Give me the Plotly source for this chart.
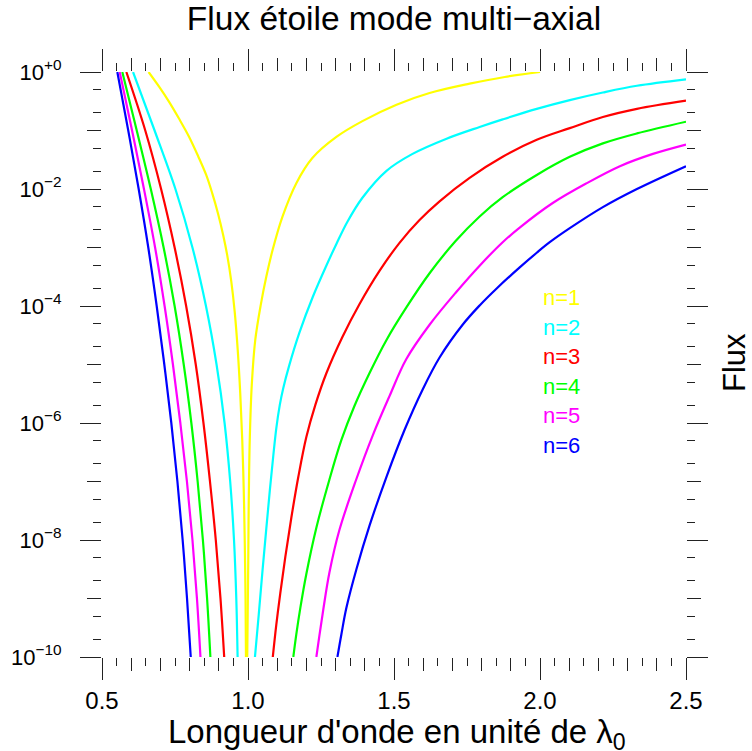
import plotly.graph_objects as go

# ---------------- data ----------------
# x = wavelength in units of lambda0 ; e = log10(flux)
decades = [0, -1, -2, -3, -4, -5, -6, -7, -8, -9, -10]

n1_left_x = [0.6595, 0.6955, 0.7298, 0.7641, 0.7985, 0.8293, 0.8568, 0.8774, 0.8979, 0.9151, 0.9288, 0.9425, 0.9545, 0.9648, 0.9734, 0.9803, 0.9854, 0.9888, 0.9916, 0.9930]
n1_left_e = [0, -0.25, -0.51, -0.80, -1.11, -1.44, -1.76, -2.07, -2.43, -2.79, -3.13, -3.57, -4.10, -4.75, -5.49, -6.29, -7.15, -8.00, -9.03, -10]
n1_right_x = [0.9974, 1.0009, 1.0026, 1.0060, 1.0129, 1.0249, 1.0437, 1.0626, 1.0849, 1.1175, 1.1655, 1.2204, 1.3027, 1.3919, 1.5086, 1.6218, 1.7590, 1.8791, 2.0]
n1_right_e = [-10, -8.34, -7.32, -6.29, -5.35, -4.58, -3.98, -3.50, -3.03, -2.48, -1.90, -1.47, -1.11, -0.84, -0.56, -0.36, -0.20, -0.085, 0]

n2_left_x = [0.6063, 0.6801, 0.7514, 0.8097, 0.8560, 0.8923, 0.9198, 0.9390, 0.9521, 0.9599, 0.9644]
n2_left_e = decades
n2_right_x = [1.0238, 1.0369, 1.0499, 1.0626, 1.0746, 1.0866, 1.0969, 1.1089, 1.1209, 1.1415, 1.1758, 1.2214, 1.2674, 1.3027, 1.3405, 1.3919, 1.4743, 1.5635, 1.6801, 1.7933, 1.8722, 1.9888, 2.1020, 2.2153, 2.3319, 2.5]
n2_right_e = [-10, -9.27, -8.51, -7.81, -7.16, -6.56, -6.09, -5.69, -5.40, -5.01, -4.46, -3.85, -3.32, -2.94, -2.56, -2.15, -1.69, -1.40, -1.14, -0.94, -0.81, -0.63, -0.48, -0.35, -0.235, -0.125]

n3_left_x = [0.5834, 0.6482, 0.7024, 0.7487, 0.7882, 0.8211, 0.8475, 0.8698, 0.8897, 0.9058, 0.9185]
n3_left_e = decades
n3_right_x = [1.0849, 1.0969, 1.1106, 1.1278, 1.1484, 1.1724, 1.1998, 1.2307, 1.2684, 1.3233, 1.3816, 1.4503, 1.5189, 1.5875, 1.6561, 1.7590, 1.8722, 1.9888, 2.1020, 2.2153, 2.3319, 2.5]
n3_right_e = [-10, -9.45, -8.91, -8.29, -7.62, -6.92, -6.24, -5.69, -5.15, -4.53, -3.97, -3.40, -2.92, -2.53, -2.21, -1.81, -1.45, -1.16, -0.96, -0.77, -0.63, -0.49]

n4_left_x = [0.5696, 0.6190, 0.6671, 0.7110, 0.7487, 0.7799, 0.8060, 0.8276, 0.8455, 0.8599, 0.8712]
n4_left_e = decades
n4_right_x = [1.1552, 1.1655, 1.1792, 1.1998, 1.2341, 1.2787, 1.3199, 1.3645, 1.4159, 1.4743, 1.5429, 1.6218, 1.7110, 1.7933, 1.8722, 1.9888, 2.1020, 2.2153, 2.3319, 2.5]
n4_right_e = [-10, -9.61, -9.16, -8.58, -7.79, -6.97, -6.29, -5.71, -5.15, -4.58, -4.02, -3.44, -2.89, -2.47, -2.14, -1.76, -1.45, -1.22, -1.05, -0.85]

n5_left_x = [0.5607, 0.6029, 0.6437, 0.6818, 0.7144, 0.7429, 0.7683, 0.7909, 0.8098, 0.8252, 0.8372]
n5_left_e = decades
n5_right_x = [1.2341, 1.2444, 1.2581, 1.2787, 1.3130, 1.3703, 1.4273, 1.4846, 1.5418, 1.6218, 1.7134, 1.7933, 1.8722, 1.9305, 2.0437, 2.1604, 2.2736, 2.3868, 2.5]
n5_right_e = [-10, -9.64, -9.18, -8.56, -7.83, -6.97, -6.21, -5.54, -4.91, -4.32, -3.76, -3.31, -2.91, -2.66, -2.24, -1.90, -1.61, -1.40, -1.24]

n6_left_x = [0.5525, 0.5899, 0.6256, 0.6585, 0.6873, 0.7134, 0.7374, 0.7583, 0.7762, 0.7912, 0.8039]
n6_left_e = decades
n6_right_x = [1.3062, 1.3199, 1.3370, 1.3713, 1.4159, 1.4743, 1.5360, 1.5978, 1.6561, 1.7350, 1.7933, 1.8516, 1.9305, 1.9888, 2.0334, 2.1020, 2.2153, 2.3319, 2.5]
n6_right_e = [-10, -9.61, -9.16, -8.50, -7.76, -6.92, -6.12, -5.43, -4.88, -4.32, -3.99, -3.70, -3.34, -3.09, -2.91, -2.67, -2.31, -2.00, -1.61]

series_names = ["n=1", "n=2", "n=3", "n=4", "n=5", "n=6"]
series_colors = ["#ffff00", "#00ffff", "#ff0000", "#00ff00", "#ff00ff", "#0000ff"]

x_major = [0.5, 1.0, 1.5, 2.0, 2.5]
x_major_text = ["0.5", "1.0", "1.5", "2.0", "2.5"]
y_label_exp = [0, -2, -4, -6, -8, -10]
y_label_text = ["10<sup>+0</sup>", "10<sup>\u22122</sup>", "10<sup>\u22124</sup>",
                "10<sup>\u22126</sup>", "10<sup>\u22128</sup>", "10<sup>\u221210</sup>"]

# ---------------- figure ----------------
W, H = 752, 751
L, R, T, B = 102, 66, 72, 94
FONT = "Liberation Sans, Arial, Helvetica, sans-serif"

lefts = [(n1_left_x, n1_left_e), (n2_left_x, n2_left_e), (n3_left_x, n3_left_e),
         (n4_left_x, n4_left_e), (n5_left_x, n5_left_e), (n6_left_x, n6_left_e)]
rights = [(n1_right_x, n1_right_e), (n2_right_x, n2_right_e), (n3_right_x, n3_right_e),
          (n4_right_x, n4_right_e), (n5_right_x, n5_right_e), (n6_right_x, n6_right_e)]

fig = go.Figure()
for (lx, le), (rx, re_), name, col in zip(lefts, rights, series_names, series_colors):
    xs = list(lx) + [None] + list(rx)
    ys = [10 ** e for e in le] + [None] + [10 ** e for e in re_]
    fig.add_trace(go.Scatter(x=xs, y=ys, mode="lines", name=name,
                             line=dict(color=col, width=2.2, shape="spline", smoothing=1.0),
                             connectgaps=False, showlegend=False))

# empty trace to create the overlay subplot carrying the long (labelled) ticks
fig.add_trace(go.Scatter(x=[], y=[], xaxis="x2", yaxis="y2", showlegend=False))

tick_common = dict(showgrid=False, zeroline=False, showline=False,
                   ticks="outside", tickcolor="#222", tickwidth=1, mirror="ticks")

x_mid = [round(0.5 + 0.1 * i, 2) for i in range(21)]
x_min = [round(0.55 + 0.1 * i, 2) for i in range(20)]
y_dec = [10.0 ** (-k) for k in range(11)]
y_min = []
for k in range(1, 11):
    y_min += [2 * 10.0 ** (-k), 5 * 10.0 ** (-k)]

fig.update_layout(
    width=W, height=H,
    margin=dict(l=L, r=R, t=T, b=B, pad=0),
    paper_bgcolor="white", plot_bgcolor="white",
    font=dict(family=FONT, color="black"),
    title=dict(text="Flux étoile mode multi\u2212axial", x=0.5, xref="paper", xanchor="center",
               y=1 - 18 / H, yref="container", yanchor="middle",
               font=dict(size=33.5, family=FONT, color="black")),
    xaxis=dict(range=[0.5, 2.5], tickmode="array", tickvals=x_mid, ticklen=13,
               showticklabels=False,
               minor=dict(tickmode="array", tickvals=x_min, ticklen=8, ticks="outside",
                          tickcolor="#222", tickwidth=1, showgrid=False),
               **tick_common),
    yaxis=dict(type="log", range=[-10, 0], tickmode="array", tickvals=y_dec, ticklen=14,
               showticklabels=False,
               minor=dict(tickmode="array", tickvals=y_min, ticklen=8, ticks="outside",
                          tickcolor="#222", tickwidth=1, showgrid=False),
               **tick_common),
    xaxis2=dict(range=[0.5, 2.5], overlaying="x", anchor="y2", side="bottom",
                tickmode="array", tickvals=x_major, ticktext=x_major_text, ticklen=22,
                tickfont=dict(size=24, family=FONT, color="black"),
                **tick_common),
    yaxis2=dict(type="log", range=[-10, 0], overlaying="y", anchor="x2", side="left",
                tickmode="array", tickvals=[10.0 ** e for e in y_label_exp],
                ticktext=y_label_text, ticklen=21, ticklabelstandoff=14,
                tickfont=dict(size=22, family=FONT, color="black"),
                **tick_common),
)

plot_w = W - L - R
plot_h = H - T - B

def px_x(px):
    return (px - L) / plot_w

def px_y(py):
    return (H - B - py) / plot_h

annotations = [
    dict(text="Longueur d'onde en unité de \u03bb<sub>0</sub>", x=px_x(397), y=px_y(734),
         xref="paper", yref="paper", showarrow=False, xanchor="center", yanchor="middle",
         font=dict(size=33, family=FONT, color="black")),
    dict(text="Flux", x=px_x(734), y=px_y(363), xref="paper", yref="paper",
         showarrow=False, textangle=-90, xanchor="center", yanchor="middle",
         font=dict(size=31, family=FONT, color="black")),
]
legend_py = [297.5, 327, 356.5, 386, 415, 445]
for name, col, py in zip(series_names, series_colors, legend_py):
    annotations.append(dict(text=name, x=px_x(541), y=px_y(py), xref="paper", yref="paper",
                            showarrow=False, xanchor="left", yanchor="middle",
                            font=dict(size=22, family=FONT, color=col)))
fig.update_layout(annotations=annotations)

fig.write_html("out.html", config={"displayModeBar": False},
               post_script="document.body.style.margin='0px';document.body.style.overflow='hidden';")
